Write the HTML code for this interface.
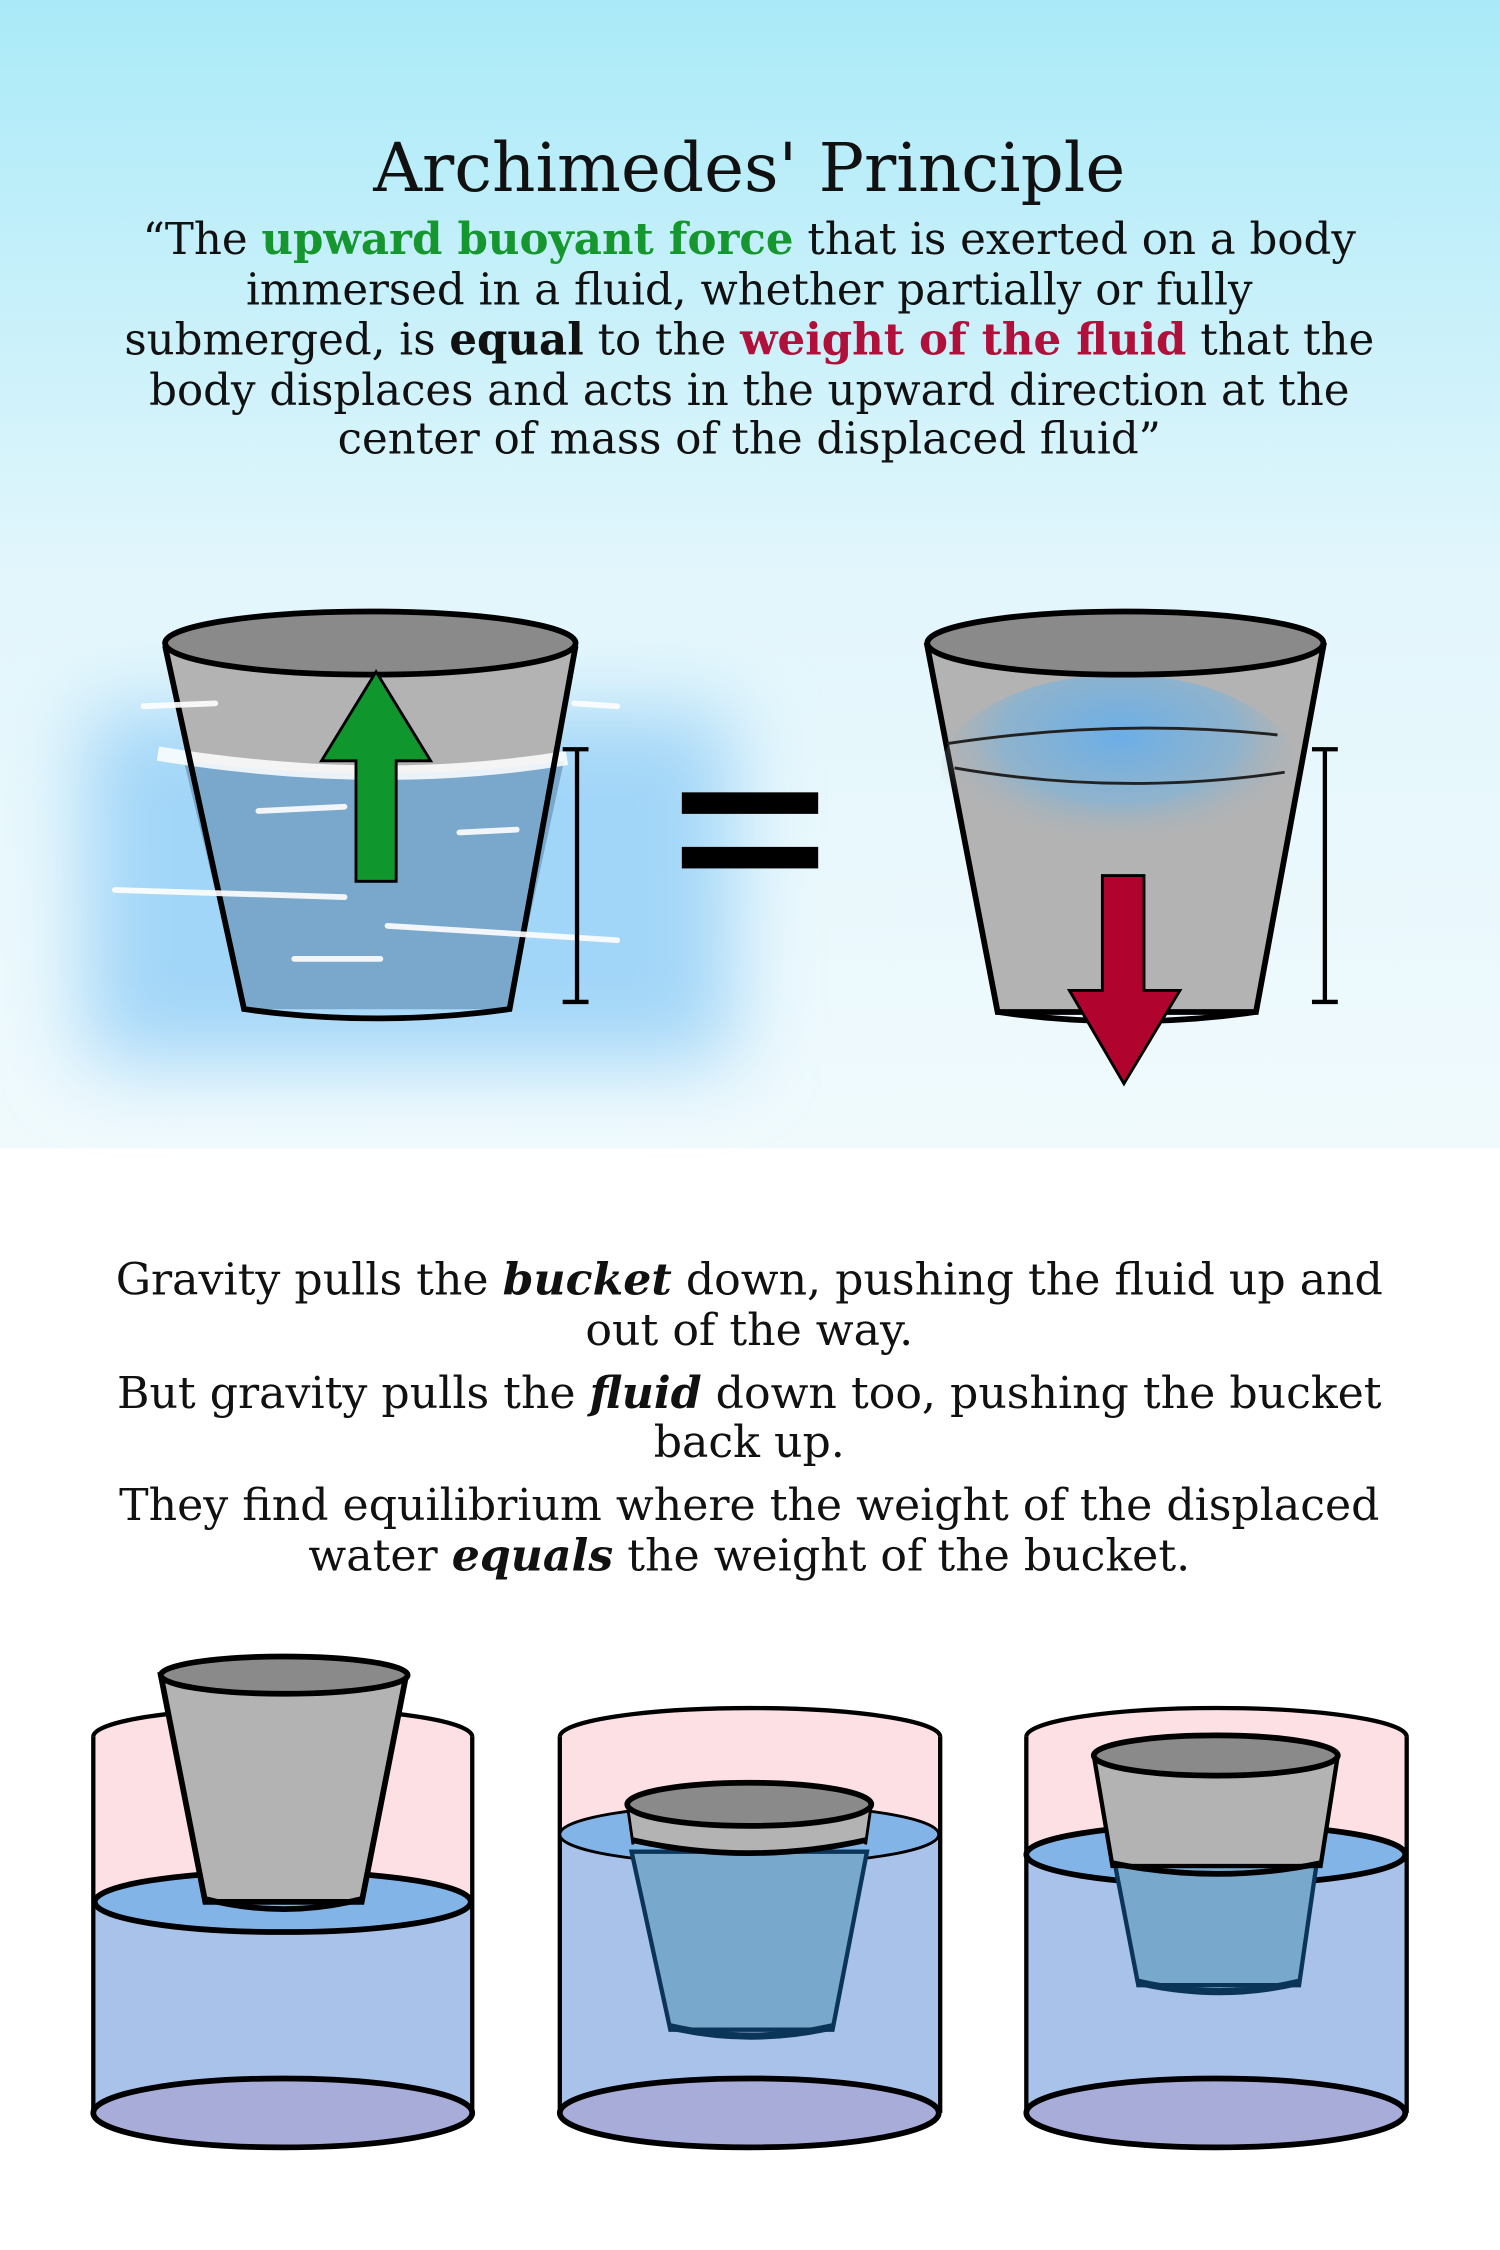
<!DOCTYPE html>
<html><head><meta charset="utf-8"><style>
html,body{margin:0;padding:0;background:#fff}
svg{display:block}
text{font-family:"DejaVu Serif","Liberation Serif",serif;fill:#111}
</style></head><body>
<svg width="1500" height="2250" viewBox="0 0 1045 1567.5" preserveAspectRatio="none">
<defs>
<linearGradient id="sky" x1="0" y1="0" x2="0" y2="1">
<stop offset="0" stop-color="#aaeaf8"/><stop offset="0.5" stop-color="#e2f6fc"/><stop offset="1" stop-color="#f0fafd"/>
</linearGradient>
<filter id="blur" x="-30%" y="-30%" width="160%" height="160%"><feGaussianBlur stdDeviation="28"/></filter>
<radialGradient id="inwater" cx="0.5" cy="0.3" r="0.55">
<stop offset="0" stop-color="#6aaee8"/><stop offset="0.6" stop-color="#7fb3d8" stop-opacity="0.7"/><stop offset="1" stop-color="#b3b3b3" stop-opacity="0"/>
</radialGradient>
</defs>
<rect x="0" y="0" width="1045" height="800" fill="url(#sky)"/>
<rect x="60" y="495" width="450" height="245" fill="#a2d6f8" filter="url(#blur)"/>

<text x="522" y="133" text-anchor="middle" font-size="47">Archimedes' Principle</text>
<g font-size="30.3" text-anchor="middle">
<text x="522" y="177">“The <tspan font-weight="bold" style="fill:#16962f">upward buoyant force</tspan> that is exerted on a body</text>
<text x="522" y="212">immersed in a fluid, whether partially or fully</text>
<text x="522" y="247">submerged, is <tspan font-weight="bold">equal</tspan> to the <tspan font-weight="bold" style="fill:#b0103a">weight of the fluid</tspan> that the</text>
<text x="522" y="282">body displaces and acts in the upward direction at the</text>
<text x="522" y="316">center of mass of the displaced fluid”</text>
</g>

<g>
<polygon points="115,450 401,450 355,703 170,703" fill="#b3b3b3"/>
<path d="M128,530 Q262,548 393,530 L355,703 L170,703 Z" fill="#7aa8cc"/>
<path d="M110,525 Q262,550 395,528" stroke="#fff" stroke-width="10" fill="none" opacity="0.85"/>
<path d="M115,450 L170,703 Q262,716 355,703 L401,450" stroke="#000" stroke-width="4" fill="none"/>
<ellipse cx="258" cy="448" rx="143" ry="22" fill="#8a8a8a" stroke="#000" stroke-width="4"/>
<g stroke="#fff" stroke-width="4" stroke-linecap="round" opacity="0.9">
<line x1="80" y1="620" x2="240" y2="625"/><line x1="270" y1="645" x2="430" y2="655"/>
<line x1="205" y1="668" x2="265" y2="668"/><line x1="100" y1="492" x2="150" y2="490"/>
<line x1="320" y1="580" x2="360" y2="578"/><line x1="400" y1="490" x2="430" y2="492"/>
<line x1="180" y1="565" x2="240" y2="562"/>
</g>
</g>
<polygon points="248,614 276,614 276,530 300,530 262,468 224,530 248,530" fill="#0f962c" stroke="#000" stroke-width="2"/>
<path d="M392,522 H410 M402,522 V698 M392,698 H410" stroke="#000" stroke-width="3" fill="none"/>

<g fill="#000">
<rect x="475" y="552" width="95" height="15"/><rect x="475" y="590" width="95" height="15"/>
</g>

<g>
<polygon points="646,450 922,450 875,705 695,705" fill="#b3b3b3" stroke="#000" stroke-width="4"/>
<ellipse cx="780" cy="540" rx="125" ry="70" fill="url(#inwater)"/>
<path d="M660,518 Q780,500 890,512" stroke="#222" stroke-width="2" fill="none"/>
<path d="M665,535 Q780,555 895,538" stroke="#222" stroke-width="2" fill="none"/>
<path d="M695,705 Q785,718 875,705" stroke="#000" stroke-width="4" fill="none"/>
<ellipse cx="784" cy="448" rx="138" ry="22" fill="#8a8a8a" stroke="#000" stroke-width="4"/>
</g>
<polygon points="768,610 797,610 797,690 822,690 783,755 745,690 768,690" fill="#b0042f" stroke="#000" stroke-width="2"/>
<path d="M914,522 H932 M923,522 V698 M914,698 H932" stroke="#000" stroke-width="3" fill="none"/>

<g font-size="30.8" text-anchor="middle">
<text x="522" y="902">Gravity pulls the <tspan font-weight="bold" font-style="italic">bucket</tspan> down, pushing the fluid up and</text>
<text x="522" y="937">out of the way.</text>
<text x="522" y="981">But gravity pulls the <tspan font-weight="bold" font-style="italic">fluid</tspan> down too, pushing the bucket</text>
<text x="522" y="1015">back up.</text>
<text x="522" y="1059">They find equilibrium where the weight of the displaced</text>
<text x="522" y="1094">water <tspan font-weight="bold" font-style="italic">equals</tspan> the weight of the bucket.</text>
</g>

<g>
<path d="M65,1210 A132,20 0 0 1 329,1210 V1325 H65 Z" fill="#fde0e4"/>
<rect x="65" y="1325" width="264" height="147" fill="#a8c2ea"/>
<ellipse cx="197" cy="1472" rx="132" ry="24" fill="#a8acd8" stroke="#000" stroke-width="4"/>
<path d="M65,1210 A132,20 0 0 1 329,1210" stroke="#000" stroke-width="3" fill="none"/>
<line x1="65" y1="1210" x2="65" y2="1472" stroke="#000" stroke-width="3"/>
<line x1="329" y1="1210" x2="329" y2="1472" stroke="#000" stroke-width="3"/>
<ellipse cx="197" cy="1325" rx="131" ry="21" fill="#82b4e8" stroke="#000" stroke-width="4"/>
<polygon points="112,1167 283,1167 252,1325 143,1325" fill="#b3b3b3" stroke="#000" stroke-width="4"/>
<path d="M143,1323 Q198,1337 252,1323" stroke="#000" stroke-width="4" fill="none"/>
<ellipse cx="198" cy="1167" rx="86" ry="13" fill="#8a8a8a" stroke="#000" stroke-width="4"/>
</g>
<g>
<path d="M390,1210 A132,20 0 0 1 655,1210 V1278 H390 Z" fill="#fde0e4"/>
<rect x="390" y="1278" width="265" height="194" fill="#a8c2ea"/>
<ellipse cx="522" cy="1472" rx="132" ry="24" fill="#a8acd8" stroke="#000" stroke-width="4"/>
<path d="M390,1210 A132,20 0 0 1 655,1210" stroke="#000" stroke-width="3" fill="none"/>
<line x1="390" y1="1210" x2="390" y2="1472" stroke="#000" stroke-width="3"/>
<line x1="655" y1="1210" x2="655" y2="1472" stroke="#000" stroke-width="3"/>
<ellipse cx="522" cy="1278" rx="132" ry="21" fill="#82b4e8" stroke="#000" stroke-width="2"/>
<polygon points="440,1290 604,1290 580,1414 467,1414" fill="#78a8cc" stroke="#0a3558" stroke-width="3"/>
<path d="M467,1412 Q523,1425 580,1412" stroke="#0a3558" stroke-width="5" fill="none"/>
<polygon points="437,1257 607,1257 603,1285 441,1285" fill="#b3b3b3"/>
<path d="M441,1282 Q522,1300 603,1282" stroke="#000" stroke-width="4" fill="#b3b3b3"/>
<line x1="437" y1="1257" x2="441" y2="1285" stroke="#000" stroke-width="2"/>
<line x1="607" y1="1257" x2="603" y2="1285" stroke="#000" stroke-width="2"/>
<ellipse cx="522" cy="1257" rx="85" ry="15" fill="#8a8a8a" stroke="#000" stroke-width="4"/>
</g>
<g>
<path d="M715,1210 A132,20 0 0 1 980,1210 V1292 H715 Z" fill="#fde0e4"/>
<rect x="715" y="1292" width="265" height="180" fill="#a8c2ea"/>
<ellipse cx="847" cy="1472" rx="132" ry="24" fill="#a8acd8" stroke="#000" stroke-width="4"/>
<path d="M715,1210 A132,20 0 0 1 980,1210" stroke="#000" stroke-width="3" fill="none"/>
<line x1="715" y1="1210" x2="715" y2="1472" stroke="#000" stroke-width="3"/>
<line x1="980" y1="1210" x2="980" y2="1472" stroke="#000" stroke-width="3"/>
<ellipse cx="847" cy="1292" rx="132" ry="21" fill="#82b4e8" stroke="#000" stroke-width="4"/>
<polygon points="777,1300 917,1300 905,1383 793,1383" fill="#78a8cc" stroke="#0a3558" stroke-width="3"/>
<path d="M793,1381 Q850,1394 905,1381" stroke="#0a3558" stroke-width="5" fill="none"/>
<polygon points="762,1223 932,1223 920,1300 775,1300" fill="#b3b3b3" stroke="#000" stroke-width="3"/>
<path d="M775,1298 Q848,1313 920,1298" stroke="#000" stroke-width="4" fill="none"/>
<ellipse cx="847" cy="1223" rx="85" ry="14" fill="#8a8a8a" stroke="#000" stroke-width="4"/>
</g>
</svg>
</body></html>
